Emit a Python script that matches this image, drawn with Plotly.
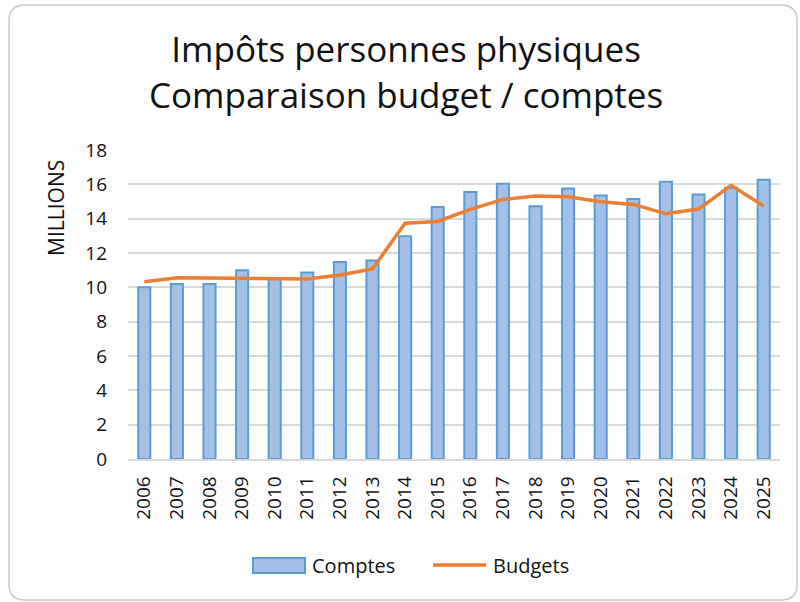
import plotly.graph_objects as go

years = [str(y) for y in range(2006, 2026)]
comptes = [10.0, 10.2, 10.2, 11.0, 10.5, 10.87, 11.47, 11.57, 12.97, 14.68,
           15.55, 16.03, 14.73, 15.76, 15.35, 15.14, 16.15, 15.41, 15.8, 16.27]
budgets = [10.33, 10.56, 10.54, 10.52, 10.54, 10.48, 10.72, 11.07, 13.73, 13.84,
           14.54, 15.12, 15.32, 15.28, 14.99, 14.83, 14.29, 14.56, 15.94, 14.73]
y_ticks = [0, 2, 4, 6, 8, 10, 12, 14, 16, 18]

FONT = "Open Sans, Liberation Sans, Arial, sans-serif"
L, R, T, B = 128, 20, 150, 143
W, H = 800, 602
pw, ph = W - L - R, H - T - B

def px(x):
    return (x - L) / pw

def py(y):
    return (H - B - y) / ph

fig = go.Figure()
fig.add_trace(go.Bar(x=years, y=comptes, name="Comptes", showlegend=False,
                     marker=dict(color="#a3c1e7", line=dict(color="#5b9bd5", width=2))))
fig.add_trace(go.Scatter(x=years, y=budgets, name="Budgets", mode="lines", showlegend=False,
                         line=dict(color="#ed7d31", width=3.5)))

# rounded border
x0, x1, y0, y1, r = 9, 797, 5, 600, 16
path = (f"M {px(x0+r)} {py(y0)} L {px(x1-r)} {py(y0)} Q {px(x1)} {py(y0)} {px(x1)} {py(y0+r)} "
        f"L {px(x1)} {py(y1-r)} Q {px(x1)} {py(y1)} {px(x1-r)} {py(y1)} "
        f"L {px(x0+r)} {py(y1)} Q {px(x0)} {py(y1)} {px(x0)} {py(y1-r)} "
        f"L {px(x0)} {py(y0+r)} Q {px(x0)} {py(y0)} {px(x0+r)} {py(y0)} Z")
fig.add_shape(type="path", path=path, xref="paper", yref="paper",
              line=dict(color="#c8c8c8", width=1.5), layer="below")

# manual legend
fig.add_shape(type="rect", xref="paper", yref="paper",
              x0=px(253), x1=px(305), y0=py(573), y1=py(558),
              fillcolor="#a3c1e7", line=dict(color="#5b9bd5", width=2))
fig.add_shape(type="line", xref="paper", yref="paper",
              x0=px(433), x1=px(486), y0=py(565), y1=py(565),
              line=dict(color="#ed7d31", width=3.5))
fig.add_annotation(text="Comptes", xref="paper", yref="paper", x=px(310), y=py(565),
                   xanchor="left", yanchor="middle", showarrow=False,
                   font=dict(size=20, color="#111111", family=FONT))
fig.add_annotation(text="Budgets", xref="paper", yref="paper", x=px(491), y=py(565),
                   xanchor="left", yanchor="middle", showarrow=False,
                   font=dict(size=20, color="#111111", family=FONT))
# y-axis title
fig.add_annotation(text="MILLIONS", xref="paper", yref="paper", x=px(56), y=py(208),
                   xanchor="center", yanchor="middle", showarrow=False, textangle=-90,
                   font=dict(size=21, color="#111111", family=FONT))
# chart title
fig.add_annotation(text="Impôts personnes physiques<br>Comparaison budget / comptes",
                   xref="paper", yref="paper", x=px(406), y=py(72),
                   xanchor="center", yanchor="middle", showarrow=False,
                   font=dict(size=35, color="#111111", family=FONT))

fig.update_layout(
    width=W, height=H,
    margin=dict(l=L, r=R, t=T, b=B, autoexpand=False),
    paper_bgcolor="white", plot_bgcolor="white",
    font=dict(family=FONT, color="#111111", size=19),
    bargap=0.63,
    showlegend=False,
    xaxis=dict(tickangle=-90, showgrid=False, showline=True, linecolor="#d9d9d9",
               linewidth=1.5, ticks="", tickfont=dict(size=19), ticklabelstandoff=8),
    yaxis=dict(range=[0, 18], tickvals=y_ticks, showgrid=True, gridcolor="#d9d9d9",
               gridwidth=1.5, zeroline=False, ticks="", tickfont=dict(size=19),
               ticklabelstandoff=20),
)

fig.write_html("out.html", config={"displayModeBar": False},
               post_script="document.body.style.margin='0px';")
